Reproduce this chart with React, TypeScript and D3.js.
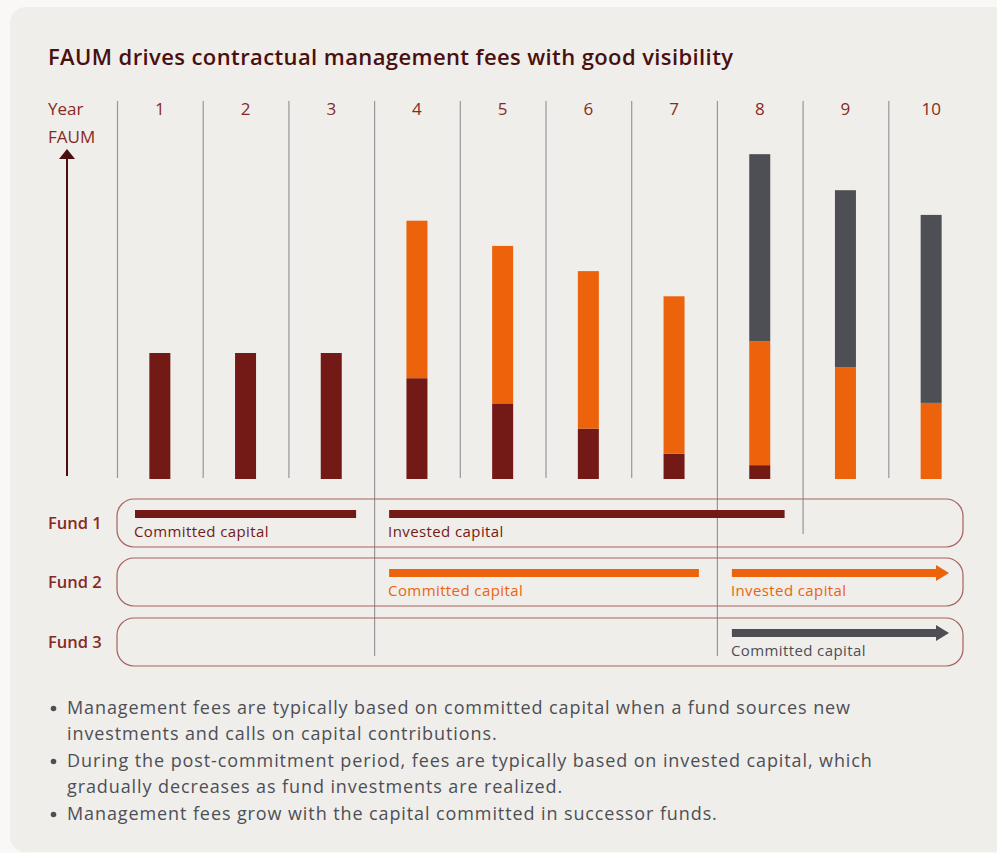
import React from "react";
import * as d3 from "d3";

// FAUM per year, stacked by fund (arbitrary units)
const years = [1, 2, 3, 4, 5, 6, 7, 8, 9, 10];
const fund1 = [5, 5, 5, 4, 3, 2, 1, 0.55, 0, 0];
const fund2 = [0, 0, 0, 6.25, 6.25, 6.25, 6.25, 4.92, 4.44, 3.02];
const fund3 = [0, 0, 0, 0, 0, 0, 0, 7.42, 7.02, 7.46];

const fundNames = ["Fund 1", "Fund 2", "Fund 3"];

// capital periods per fund: [fund index, first year, last year, label, arrow]
const periods: [number, number, number, string, boolean][] = [
  [0, 1, 3, "Committed capital", false],
  [0, 4, 8, "Invested capital", false],
  [1, 4, 7, "Committed capital", false],
  [1, 8, 10, "Invested capital", true],
  [2, 8, 10, "Committed capital", true],
];

const bullets = [
  ["Management fees are typically based on committed capital when a fund sources new", "investments and calls on capital contributions."],
  ["During the post-commitment period, fees are typically based on invested capital, which", "gradually decreases as fund investments are realized."],
  ["Management fees grow with the capital committed in successor funds."],
];

const title = "FAUM drives contractual management fees with good visibility";

const colors = ["#741a16", "#ec630b", "#4e4f54"];
const labelColor = "#862a23";
const font = "'Open Sans', 'Noto Sans', sans-serif";

export default function App() {
  const W = 997;
  const H = 853;
  const base = 479;

  const x = d3.scaleBand<number>().domain(years).range([117, 974]).paddingInner(0);
  const y = d3.scaleLinear().domain([0, 13]).range([base, base - 13 * 25.2]);
  const bw = 21;

  const rows = years.map((yr, i) => ({ year: yr, f1: fund1[i], f2: fund2[i], f3: fund3[i] }));
  const series = d3.stack<any>().keys(["f1", "f2", "f3"])(rows);

  const rowTop = [499, 558, 618];
  const rowH = 48;
  const rectX0 = 117;
  const rectX1 = 963;

  // divider lines: most stop at the axis, phase starts run through the fund rows
  const dividerEnd = (yr: number) => {
    if (yr === 4 || yr === 8) return 656;
    if (yr === 9) return 534;
    return 478;
  };

  return (
    <svg
      width={W}
      height={H}
      style={{ position: "absolute", left: 0, top: 0, display: "block" }}
      fontFamily={font}
    >
      <rect x={0} y={0} width={W} height={H} fill="#f9f8f6" />
      <rect x={10} y={7} width={W + 20} height={845} rx={16} fill="#efeeeb" />

      <text x={48} y={65} fontSize={22} fontWeight={600} fill="#4a0f0f" textLength={685} lengthAdjust="spacing">
        {title}
      </text>

      {/* header */}
      <text x={48} y={115} fontSize={17} fill={labelColor}>Year</text>
      <text x={48} y={143} fontSize={17} fill={labelColor}>FAUM</text>
      {years.map((yr) => (
        <text
          key={"t" + yr}
          x={(x(yr) as number) + x.bandwidth() / 2}
          y={115}
          fontSize={17}
          textAnchor="middle"
          fill={labelColor}
        >
          {yr}
        </text>
      ))}

      {/* y arrow */}
      <line x1={67} x2={67} y1={476} y2={156} stroke="#4a0f0f" strokeWidth={2} />
      <path d="M67,149 L59,159 L75,159 Z" fill="#4a0f0f" />

      {/* dividers */}
      {years.map((yr) => (
        <line
          key={"d" + yr}
          x1={(x(yr) as number) + 0.5}
          x2={(x(yr) as number) + 0.5}
          y1={101}
          y2={dividerEnd(yr)}
          stroke="#97969a"
          strokeWidth={1.2}
        />
      ))}

      {/* stacked bars */}
      {series.map((s, si) => (
        <g key={"s" + si} fill={colors[si]}>
          {s.map((d: any, i: number) =>
            d[1] - d[0] > 0 ? (
              <rect
                key={i}
                x={(x(years[i]) as number) + x.bandwidth() / 2 - bw / 2}
                y={y(d[1])}
                width={bw}
                height={y(d[0]) - y(d[1])}
              />
            ) : null
          )}
        </g>
      ))}

      {/* fund rows */}
      {fundNames.map((name, fi) => (
        <g key={name}>
          <rect
            x={rectX0}
            y={rowTop[fi]}
            width={rectX1 - rectX0}
            height={rowH}
            rx={17}
            fill="none"
            stroke="#a9625d"
            strokeWidth={1.2}
          />
          <text x={48} y={rowTop[fi] + rowH / 2 + 6} fontSize={16.5} fontWeight={600} fill={labelColor}>
            {name}
          </text>
        </g>
      ))}

      {periods.map(([fi, y0, y1, label, arrow], i) => {
        const start = (x(y0) as number) + (y0 === 1 ? 18 : 15);
        const end = (x(y1) as number) + x.bandwidth() - (arrow ? 25 : 18);
        const cy = rowTop[fi] + 15;
        const c = colors[fi];
        const lineEnd = arrow ? end - 12 : end;
        return (
          <g key={"p" + i}>
            <rect x={start} y={cy - 4} width={lineEnd - start} height={8} fill={c} />
            {arrow && <path d={`M${end},${cy} L${end - 13},${cy - 8} L${end - 13},${cy + 8} Z`} fill={c} />}
            <text x={start - 1} y={rowTop[fi] + 38} fontSize={15} letterSpacing={0.4} fill={c}>
              {label}
            </text>
          </g>
        );
      })}

      {/* bullets */}
      {bullets.map((lines, bi) => {
        const top = 714 + bi * 53;
        return (
          <g key={"b" + bi}>
            <circle cx={53.5} cy={top - 5.5} r={2.8} fill="#4e4e55" />
            {lines.map((ln, li) => (
              <text key={li} x={67} y={top + li * 26} fontSize={18} letterSpacing={0.9} fill="#4e4e55">
                {ln}
              </text>
            ))}
          </g>
        );
      })}
    </svg>
  );
}
